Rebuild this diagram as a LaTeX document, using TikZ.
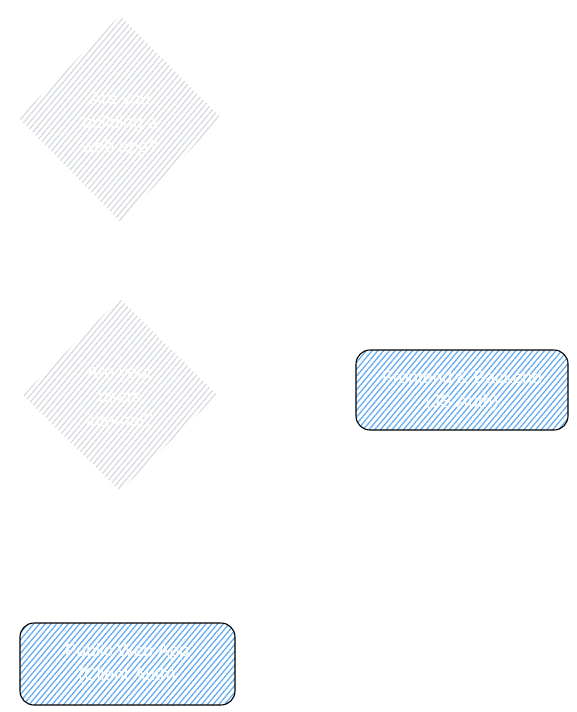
\documentclass[tikz,border=0pt]{standalone}
\usepackage{fontspec}
\setmainfont{Liberation Sans}
\usetikzlibrary{patterns.meta,arrows.meta}
\definecolor{hatchgray}{HTML}{CED4DA}
\definecolor{hatchblue}{HTML}{4A9EED}
\tikzset{
  decision/.style={draw=white, line width=0.8pt,
    pattern={Lines[angle=50,distance=4.4pt,line width=1pt]}, pattern color=hatchgray},
  outcome/.style={draw=black, line width=1.1pt, rounded corners=14pt,
    pattern={Lines[angle=50,distance=4.4pt,line width=1.3pt]}, pattern color=hatchblue!85},
  lbl/.style={text=white, font=\fontsize{17.5}{24}\selectfont, align=center},
  flow/.style={draw=white, line width=1pt, -{Stealth[length=7pt]}}
}
\begin{document}
\begin{tikzpicture}[x=1pt,y=-1pt]
\useasboundingbox (0,0) rectangle (577,712);
% diamond 1
\path[decision] (120,15) -- (222,118) -- (120,222) -- (18,118) -- cycle;
\node[lbl] (q1) at (120,124) {Are you\\building a\\web app?};
% diamond 2
\path[decision] (120,298) -- (218,395) -- (120,492) -- (22,395) -- cycle;
\node[lbl] (q2) at (120,397) {Are your\\users\\internal?};
% outcome boxes
\path[outcome] (356,350) rectangle (568,430);
\node[lbl] (a1) at (462,391) {Frontend \& Backend\\(JS Auth)};
\path[outcome] (20,623) rectangle (235,705);
\node[lbl] (a2) at (127,664) {Public Web App\\(Client Auth)};
% connectors (white, as in the reference)
\coordinate (d1b) at (120,222);
\coordinate (d2t) at (120,298);
\coordinate (d2r) at (218,395);
\coordinate (d2b) at (120,492);
\coordinate (a1l) at (356,390);
\coordinate (a2t) at (125,623);
\draw[flow] (d1b) -- (d2t);
\draw[flow] (d2r) -- (a1l);
\draw[flow] (d2b) -- (a2t);
\end{tikzpicture}
\end{document}
